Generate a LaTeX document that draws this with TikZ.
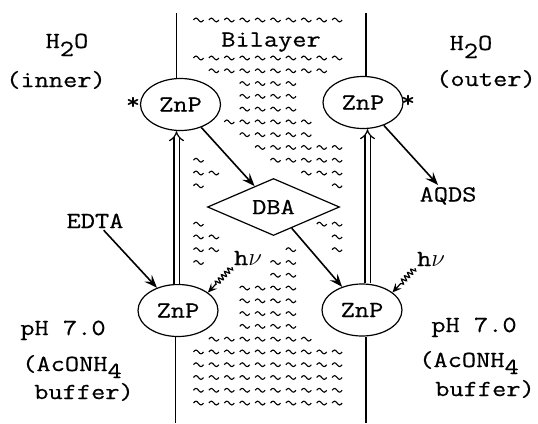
\documentclass[tikz,border=0pt]{standalone}
\usepackage{fontspec}
\setmainfont{Latin Modern Mono}[FakeStretch=1.2,FakeBold=0.5]
\usetikzlibrary{arrows.meta,shapes.geometric,decorations.pathmorphing}
\begin{document}
\begin{tikzpicture}[x=1pt,y=-1pt,
  txt/.style={font=\fontsize{23}{27}\selectfont, inner sep=2pt},
  zn/.style={ellipse, draw, line width=1.2pt, minimum width=80pt, minimum height=52pt, inner sep=0pt, font=\fontsize{23}{27}\selectfont},
  dbashape/.style={diamond, draw, line width=1.2pt, minimum width=132pt, minimum height=41pt, inner sep=0pt, font=\fontsize{23}{27}\selectfont},
  mline/.style={line width=1.3pt},
  arr/.style={line width=1.6pt, -{Stealth[length=13pt,width=10pt,inset=5pt]}},
  dbl/.style={double, double distance=4pt, line width=1.2pt, -{Implies[scale=1.6]}},
  wavy/.style={line width=1.2pt, -{Stealth[length=9pt,width=8pt,inset=3.5pt]}, decorate, decoration={snake, segment length=4.5pt, amplitude=2.5pt, post length=10pt}},
  tld/.pic={\draw[line width=1.1pt] (-5,0) sin (-2.5,-1.9) cos (0,0) sin (2.5,1.9) cos (5,0);}
]
\useasboundingbox (0,0) rectangle (538,423);

% tildes of the bilayer
\foreach \c in {0,...,9} \pic at ({198.5+15.4*\c},20) {tld};
\foreach \k/\cols in {0/{0,...,9},1/{1,...,8},2/{3,...,6},3/{3,...,6},4/{3,...,6},
  5/{2,...,7},6/{3,...,7},7/{4,...,9},8/{0,5,6,7,8,9},9/{0,1,7,8,9},10/{0,9},
  13/{0,8,9},14/{0,1,9},15/{0,1,6,9},16/{0,5,6},17/{5,6},
  18/{3,...,6},19/{3,...,6},20/{3,...,6},21/{3,...,6},22/{1,...,7},
  23/{0,...,9},24/{0,...,9},25/{0,...,9},26/{0,...,9},27/{0,...,9}}
  \foreach \c in \cols \pic at ({198.5+15.4*\c},{58+12.78*\k}) {tld};

% nodes
\node[zn] (zl1) at (180.5,104.5) {ZnP};
\node[zn] (zl2) at (178,310.5) {ZnP};
\node[zn] (zr1) at (363,102.5) {ZnP};
\node[zn] (zr2) at (362,310) {ZnP};
\node[dbashape, fill=white] (dba) at (273.5,207) {DBA};

\node[txt, anchor=base] (bil) at (271,46.5) {Bilayer};
\node[txt, anchor=base] (h2ol) at (67,48) {H\raisebox{-8pt}{2}O};
\node[txt, anchor=base] (inner) at (56,87) {(inner)};
\node[txt, anchor=base] (h2or) at (471,50) {H\raisebox{-8pt}{2}O};
\node[txt, anchor=base] (outer) at (486,86) {(outer)};
\node[txt, anchor=base] (aqds) at (448,201.5) {AQDS};
\node[txt, anchor=base] (edta) at (95,228) {EDTA};
\node[txt, anchor=base] (phl) at (63,335) {pH 7.0};
\node[txt, anchor=base] (acl) at (72,371) {(AcONH\raisebox{-7pt}{4}};
\node[txt, anchor=base] (bufl) at (84,399) {buffer)};
\node[txt, anchor=base] (phr) at (474,332) {pH 7.0};
\node[txt, anchor=base] (acr) at (469,367) {(AcONH\raisebox{-7pt}{4}};
\node[txt, anchor=base] (bufr) at (485,396) {buffer)};
\node[txt, anchor=base] (hvl) at (248,265) {h$\nu$};
\node[txt, anchor=base] (hvr) at (431,266) {h$\nu$};
\node[txt, anchor=base] (stl) at (133,109) {*};
\node[txt, anchor=base] (str) at (408,107) {*};

% membrane boundary lines
\coordinate (lt) at (176.5,13);
\coordinate (lb) at (175.5,423);
\coordinate (rt) at (366,13);
\coordinate (rb) at (366,423);
\coordinate (rd) at (367.5,200);
\draw[mline] (lt) -- (lt |- zl1.north);
\draw[mline] (lb |- zl2.south) -- (lb);
\draw[mline] (rt) -- (rt |- zr1.north);
\draw[mline] (rb |- zr2.south) -- (rb);
\draw[dbl] (zl2.north -| lt) -- (zl1.south -| lt);
\draw[dbl] (zr2.north -| rd) -- (zr1.south -| rd);

% arrows
\draw[arr] (zl1) -- (dba);
\draw[arr] (dba) -- (zr2);
\draw[arr] (zr1) -- (aqds);
\draw[arr] (edta) -- (zl2);
\draw[wavy] (hvl.south west) -- (zl2.31);
\draw[wavy] (hvr.south west) -- (zr2.30);
\end{tikzpicture}
\end{document}
